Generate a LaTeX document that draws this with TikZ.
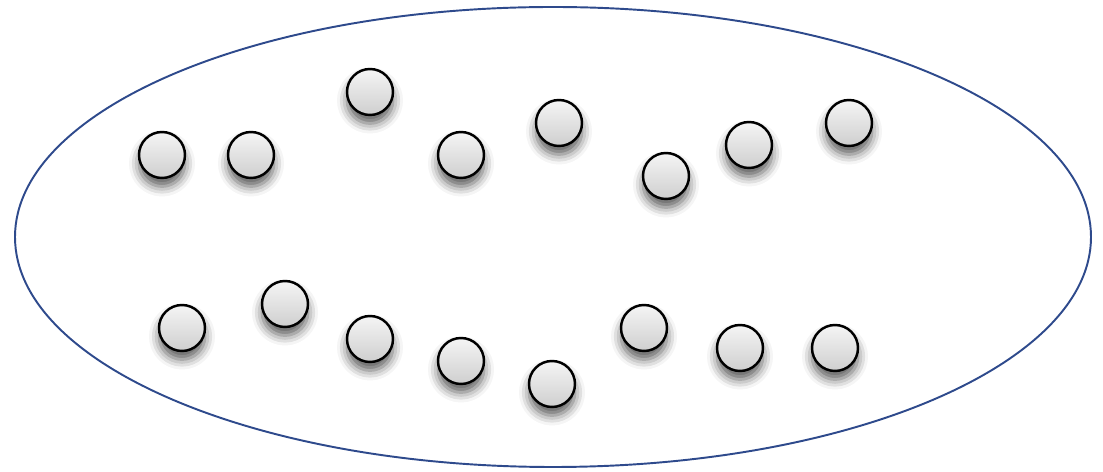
\documentclass[tikz,border=0pt]{standalone}
\usetikzlibrary{shadows.blur}
\definecolor{cnavy}{HTML}{2E4A8C}
\tikzset{
  every picture/.style={line width=1.1pt},
  ball/.style={circle, draw=black, line width=1.4pt, minimum size=0.92cm, inner sep=0pt,
    top color=gray!8, bottom color=gray!38,
    blur shadow={shadow xshift=0pt, shadow yshift=-0.17cm, shadow blur radius=0.2cm, shadow opacity=65}},
  rim/.style={draw=cnavy, line width=1.1pt},
}

\begin{document}
\begin{tikzpicture}[x=0.02cm, y=-0.02cm]
  \useasboundingbox (0,0) rectangle (1103,472);
  \draw[rim] (553,237) ellipse [x radius=538, y radius=230];
  % upper row
  \foreach \x/\y [count=\i] in {162/155, 251/155, 370/92, 461/155, 559/123, 666/176, 749/145, 849/123} {
    \node[ball] (u\i) at (\x,\y) {};
  }
  % lower row
  \foreach \x/\y [count=\i] in {182/328, 285/304, 370/339, 461/361, 552/384, 644/328, 740/348, 835/348} {
    \node[ball] (l\i) at (\x,\y) {};
  }
\end{tikzpicture}
\end{document}
